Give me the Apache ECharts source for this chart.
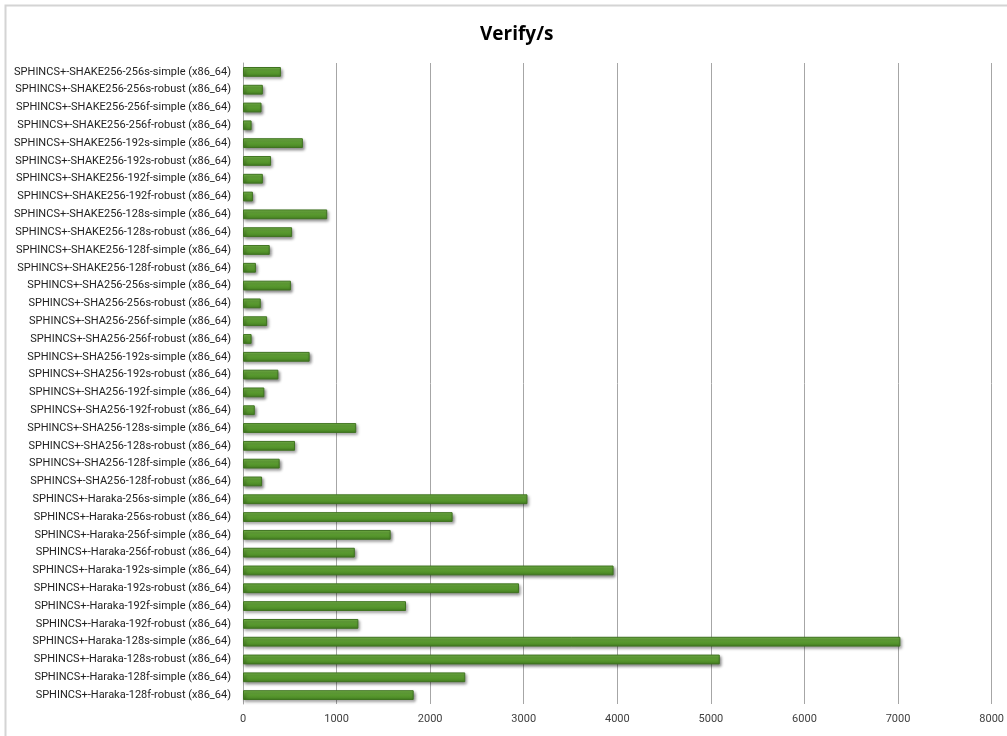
<!DOCTYPE html>
<html>
<head>
<meta charset="utf-8">
<script src="https://cdn.jsdelivr.net/npm/echarts@6/dist/echarts.min.js"></script>
<style>
  html, body { margin: 0; padding: 0; background: #fff; }
  #chart { width: 1007px; height: 736px; }
</style>
</head>
<body>
<div id="chart"></div>
<script>
const categories = [
    'SPHINCS+-SHAKE256-256s-simple (x86_64)',
    'SPHINCS+-SHAKE256-256s-robust (x86_64)',
    'SPHINCS+-SHAKE256-256f-simple (x86_64)',
    'SPHINCS+-SHAKE256-256f-robust (x86_64)',
    'SPHINCS+-SHAKE256-192s-simple (x86_64)',
    'SPHINCS+-SHAKE256-192s-robust (x86_64)',
    'SPHINCS+-SHAKE256-192f-simple (x86_64)',
    'SPHINCS+-SHAKE256-192f-robust (x86_64)',
    'SPHINCS+-SHAKE256-128s-simple (x86_64)',
    'SPHINCS+-SHAKE256-128s-robust (x86_64)',
    'SPHINCS+-SHAKE256-128f-simple (x86_64)',
    'SPHINCS+-SHAKE256-128f-robust (x86_64)',
    'SPHINCS+-SHA256-256s-simple (x86_64)',
    'SPHINCS+-SHA256-256s-robust (x86_64)',
    'SPHINCS+-SHA256-256f-simple (x86_64)',
    'SPHINCS+-SHA256-256f-robust (x86_64)',
    'SPHINCS+-SHA256-192s-simple (x86_64)',
    'SPHINCS+-SHA256-192s-robust (x86_64)',
    'SPHINCS+-SHA256-192f-simple (x86_64)',
    'SPHINCS+-SHA256-192f-robust (x86_64)',
    'SPHINCS+-SHA256-128s-simple (x86_64)',
    'SPHINCS+-SHA256-128s-robust (x86_64)',
    'SPHINCS+-SHA256-128f-simple (x86_64)',
    'SPHINCS+-SHA256-128f-robust (x86_64)',
    'SPHINCS+-Haraka-256s-simple (x86_64)',
    'SPHINCS+-Haraka-256s-robust (x86_64)',
    'SPHINCS+-Haraka-256f-simple (x86_64)',
    'SPHINCS+-Haraka-256f-robust (x86_64)',
    'SPHINCS+-Haraka-192s-simple (x86_64)',
    'SPHINCS+-Haraka-192s-robust (x86_64)',
    'SPHINCS+-Haraka-192f-simple (x86_64)',
    'SPHINCS+-Haraka-192f-robust (x86_64)',
    'SPHINCS+-Haraka-128s-simple (x86_64)',
    'SPHINCS+-Haraka-128s-robust (x86_64)',
    'SPHINCS+-Haraka-128f-simple (x86_64)',
    'SPHINCS+-Haraka-128f-robust (x86_64)'
];

// verifications per second
const shakeValues = [405, 212, 198, 92, 640, 300, 212, 106, 900, 525, 286, 138];
const shaValues = [512, 190, 258, 92, 712, 378, 228, 126, 1210, 556, 392, 204];
const harakaValues = [3040, 2240, 1578, 1195, 3960, 2950, 1742, 1233, 7025, 5095, 2375, 1824];

const verifyValues = shakeValues.concat(shaValues, harakaValues);
const xTicks = [0, 1000, 2000, 3000, 4000, 5000, 6000, 7000, 8000];

const chart = echarts.init(document.getElementById('chart'));

const option = {
    backgroundColor: '#fff',
    textStyle: { fontFamily: 'Roboto, "Liberation Sans", sans-serif' },
    animation: false,
    title: {
        text: 'Verify/s',
        left: 475,
        top: 20,
        textStyle: {
            fontFamily: '"Open Sans", sans-serif',
            fontSize: 19,
            fontWeight: 'bold',
            color: '#000'
        }
    },
    graphic: [
        {
            type: 'rect',
            shape: { x: 5.5, y: 5.5, width: 1010, height: 740 },
            style: { fill: 'none', stroke: '#d4d4d4', lineWidth: 2 },
            silent: true
        }
    ],
    grid: {
        left: 243,
        right: 15,
        top: 63,
        bottom: 32
    },
    xAxis: {
        type: 'value',
        min: xTicks[0],
        max: xTicks[xTicks.length - 1],
        interval: 1000,
        axisLine: { show: false },
        axisTick: { show: false },
        axisLabel: {
            color: '#404040',
            fontSize: 11,
            margin: 10,
            formatter: (v) => String(v)
        },
        splitLine: {
            lineStyle: { color: '#a6a6a6', width: 1 }
        }
    },
    yAxis: {
        type: 'category',
        inverse: true,
        data: categories,
        axisLine: { show: true, lineStyle: { color: '#a6a6a6' } },
        axisTick: { show: false },
        axisLabel: {
            color: '#222',
            fontSize: 11,
            margin: 12
        }
    },
    series: [
        {
            name: 'Verify/s',
            type: 'bar',
            data: verifyValues,
            barWidth: '55%',
            itemStyle: {
                color: new echarts.graphic.LinearGradient(0, 0, 0, 1, [
                    { offset: 0, color: '#78bb4a' },
                    { offset: 0.5, color: '#5c9e31' },
                    { offset: 1, color: '#437d20' }
                ]),
                borderColor: '#3f7320',
                borderWidth: 1,
                shadowColor: 'rgba(0, 0, 0, 0.45)',
                shadowBlur: 3,
                shadowOffsetX: 1.5,
                shadowOffsetY: 2
            }
        }
    ]
};

chart.setOption(option);
</script>
</body>
</html>
